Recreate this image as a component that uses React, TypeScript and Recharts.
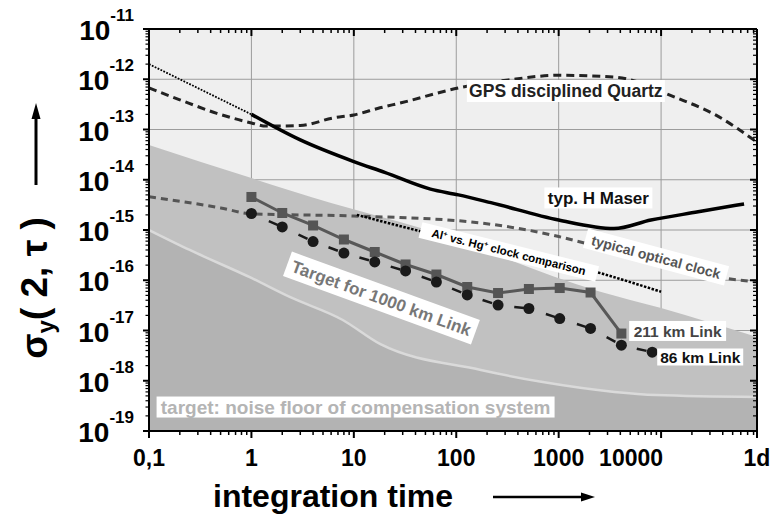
import React from 'react';
import { ComposedChart, XAxis, YAxis, CartesianGrid, Line, Area, ReferenceDot, Label } from 'recharts';

const FONT = '"Liberation Sans", Arial, Helvetica, sans-serif';

const TAU_MIN = 0.1;
const TAU_MAX = 86400;
const SIG_MIN = 1e-19;
const SIG_MAX = 1e-11;

// axis decades + labels
const xMajorTicks = [0.1, 1, 10, 100, 1000, 10000, 86400];
const xMajorLabels = ['0,1', '1', '10', '100', '1000', '10000', '1d'];
const yExponents = [-19, -18, -17, -16, -15, -14, -13, -12, -11];

// GPS disciplined quartz
const quartzTau = [0.1, 0.2, 0.46, 1, 1.4, 3, 6.3, 10, 18, 29, 105, 324, 1000, 3550, 6000, 12000, 34000, 86400];
const quartzSigma = [6.7e-13, 3.9e-13, 2.1e-13, 1.35e-13, 1.17e-13, 1.2e-13, 1.7e-13, 1.95e-13, 2.7e-13, 3.4e-13, 6.7e-13, 9.7e-13, 1.2e-12, 1.1e-12, 8.8e-13, 4.9e-13, 1.95e-13, 5.6e-14];

// H maser (dotted start, solid rest)
const maserDotTau = [0.1, 1];
const maserDotSigma = [2e-12, 2e-13];
const maserTau = [1, 3, 10, 20, 56, 105, 218, 1000, 3470, 7950, 23000, 64600];
const maserSigma = [2e-13, 6.2e-14, 2.3e-14, 1.4e-14, 6.5e-15, 5e-15, 3.5e-15, 1.58e-15, 1.07e-15, 1.58e-15, 2.3e-15, 3.3e-15];

// typical optical clock
const opticalTau = [0.1, 0.5, 1, 10, 138, 1000, 1780, 10000, 41700, 86400];
const opticalSigma = [4.6e-15, 2.75e-15, 2.1e-15, 1.9e-15, 1.45e-15, 7.4e-16, 5.5e-16, 2.3e-16, 1.1e-16, 9.3e-17];

// Al+ vs Hg+ comparison
const alHgTau = [10.7, 48, 2570, 10000];
const alHgSigma = [2e-15, 9.1e-16, 1.38e-16, 5.9e-17];

// fibre links
const link211Tau = [1, 2, 4, 8, 16, 32, 64, 128, 256, 512, 1024, 2048, 4096];
const link211Sigma = [4.54e-15, 2.18e-15, 1.23e-15, 6.47e-16, 3.65e-16, 2.06e-16, 1.3e-16, 7.34e-17, 5.57e-17, 6.7e-17, 7.0e-17, 5.7e-17, 8.7e-18];
const link86Tau = [1, 2, 4, 8, 16, 32, 64, 128, 256, 512, 1024, 2048, 4096, 8192];
const link86Sigma = [2.13e-15, 1.15e-15, 5.9e-16, 3.48e-16, 2.31e-16, 1.53e-16, 9.2e-17, 5.1e-17, 3.2e-17, 2.74e-17, 1.73e-17, 1.1e-17, 5.1e-18, 3.7e-18];

// shaded targets
const targetTau = [0.1, 1, 6, 45, 2500, 10000, 86400];
const targetSigma = [4.92e-14, 1.08e-14, 3.45e-15, 1.1e-15, 6e-17, 2.8e-17, 7.4e-18];
const floorTau = [0.1, 0.25, 1, 2.4, 7.8, 18, 174, 700, 3500, 9000, 86400];
const floorSigma = [1e-15, 4e-16, 1.11e-16, 4.6e-17, 1.62e-17, 5.4e-18, 1.64e-18, 9.4e-19, 6e-19, 5.2e-19, 4.75e-19];

// annotations
const noteText = ['GPS disciplined Quartz', 'typ. H Maser', 'typical optical clock', 'Target for 1000 km Link', 'target: noise floor of compensation system', '211 km Link', '86 km Link'];
const noteTau = [1175, 2443, 8930, 18.6, 10.4, 14500, 24100];
const noteSigma = [5.84e-13, 4.34e-15, 2.9e-16, 4.43e-17, 3.0e-19, 9.8e-18, 2.97e-18];
const noteStyle = [
  { w: 198, h: 22, fs: 17.5, color: '#222', angle: 0 },
  { w: 108, h: 21, fs: 17, color: '#111', angle: 0 },
  { w: 146, h: 20, fs: 14, color: '#555', angle: 15 },
  { w: 200, h: 26, fs: 17, color: '#777', angle: 20 },
  { w: 398, h: 21, fs: 19, color: '#b4b4b4', angle: 0 },
  { w: 97, h: 20, fs: 15.5, color: '#444', angle: 0 },
  { w: 86, h: 17, fs: 15.5, color: '#111', angle: 0 },
];
const alHgNoteTau = 326;
const alHgNoteSigma = 3.65e-16;

const pts = (t: number[], s: number[]) => t.map((tau, i) => ({ tau, sigma: s[i] }));

const xMinor: number[] = [];
for (let e = -1; e <= 4; e++) for (let m = 2; m <= 9; m++) {
  const v = Number(`${m}e${e}`);
  if (v < TAU_MAX) xMinor.push(v);
}
const yMinor: number[] = [];
for (let e = -19; e <= -12; e++) for (let m = 2; m <= 9; m++) yMinor.push(Number(`${m}e${e}`));
const yMajor = yExponents.map((e) => Number(`1e${e}`));
const xTicks = [...xMajorTicks, ...xMinor].sort((a, b) => a - b);
const yTicks = [...yMajor, ...yMinor].sort((a, b) => a - b);

const isDecade = (v: number) => {
  const lg = Math.log10(v);
  return Math.abs(lg - Math.round(lg)) < 1e-6;
};
const xMajorIndex = (v: number) => xMajorTicks.findIndex((t) => Math.abs(t - v) / t < 1e-6);

function LeftTick({ x, y, payload }: any) {
  const v = payload.value;
  const major = isDecade(v);
  return (
    <g>
      <line x1={x - (major ? 6 : 3.5)} x2={x} y1={y} y2={y} stroke="#000" strokeWidth={major ? 2 : 1.2} />
      {major && (
        <text x={x - 15} y={y + 11} textAnchor="end" fontFamily={FONT} fontWeight="bold" fill="#000">
          <tspan fontSize={28}>10</tspan>
          <tspan fontSize={17} dy={-19}>{Math.round(Math.log10(v))}</tspan>
        </text>
      )}
    </g>
  );
}

function RightTick({ x, y, payload }: any) {
  const major = isDecade(payload.value);
  return <line x1={x - (major ? 7 : 4)} x2={x} y1={y} y2={y} stroke="#000" strokeWidth={major ? 2 : 1.2} />;
}

function BottomTick({ x, y, payload }: any) {
  const idx = xMajorIndex(payload.value);
  const major = idx >= 0;
  const shift = xMajorLabels[idx] === '10000' ? -30 : 0;
  return (
    <g>
      <line x1={x} x2={x} y1={y} y2={y + (major ? 7 : 4)} stroke="#000" strokeWidth={major ? 2 : 1.5} />
      {major && (
        <text x={x + shift} y={y + 35} textAnchor="middle" fontFamily={FONT} fontWeight="bold" fontSize={23} fill="#000">
          {xMajorLabels[idx]}
        </text>
      )}
    </g>
  );
}

function TopTick({ x, y, payload }: any) {
  const major = xMajorIndex(payload.value) >= 0;
  return <line x1={x} x2={x} y1={y} y2={y + (major ? 7 : 4)} stroke="#000" strokeWidth={major ? 2 : 1.5} />;
}

function YTitle({ viewBox }: any) {
  const x = viewBox.x + viewBox.width;
  const y = viewBox.y;
  const ax = x - 113;
  return (
    <g>
      <text transform={`translate(${x - 102},${y + 259}) rotate(-90)`} textAnchor="middle" fontFamily={FONT} fontWeight="bold" fontSize={37} fill="#000">
        σ<tspan fontSize={24} dy={7}>y</tspan>
        <tspan dy={-7}>( 2, τ )</tspan>
      </text>
      <line x1={ax} x2={ax} y1={y + 156} y2={y + 86} stroke="#000" strokeWidth={3} />
      <path d={`M${ax} ${y + 74} L${ax - 4.5} ${y + 90} L${ax + 4.5} ${y + 90} Z`} fill="#000" />
    </g>
  );
}

function XTitle({ viewBox }: any) {
  const { x, y } = viewBox;
  return (
    <g>
      <text x={x + 64} y={y + 76} fontFamily={FONT} fontWeight="bold" fontSize={32} fill="#000">integration time</text>
      <line x1={x + 344} x2={x + 436} y1={y + 66} y2={y + 66} stroke="#000" strokeWidth={2.5} />
      <path d={`M${x + 446} ${y + 66} L${x + 432} ${y + 61.5} L${x + 432} ${y + 70.5} Z`} fill="#000" />
    </g>
  );
}

function Tag({ cx, cy, style, children }: any) {
  const { w, h, fs, color, angle } = style;
  return (
    <g transform={`translate(${cx},${cy}) rotate(${angle})`}>
      <rect x={-w / 2} y={-h / 2} width={w} height={h} fill="#fff" />
      <text x={0} y={fs * 0.36} textAnchor="middle" fontSize={fs} fontWeight="bold" fill={color} fontFamily={FONT}>
        {children}
      </text>
    </g>
  );
}

const squareDot = (p: any) => (
  <rect key={`sq${p.index}`} x={p.cx - 5} y={p.cy - 5} width={10} height={10} fill="#555" />
);
const roundDot = (p: any) => <circle key={`ci${p.index}`} cx={p.cx} cy={p.cy} r={5.5} fill="#1a1a1a" />;

export default function App() {
  return (
    <div style={{ position: 'absolute', left: 0, top: 0, background: '#fff' }}>
      <ComposedChart width={770} height={519} margin={{ top: 28, right: 12, bottom: 87, left: 148 }}>
        <CartesianGrid
          fill="#efefef"
          stroke="#9c9c9c"
          strokeWidth={1}
          horizontalValues={yMajor}
          verticalValues={xMajorTicks}
        />
        <XAxis
          dataKey="tau"
          type="number"
          scale="log"
          domain={[TAU_MIN, TAU_MAX]}
          allowDataOverflow
          ticks={xTicks}
          interval={0}
          tick={BottomTick}
          tickLine={false}
          tickSize={0}
          tickMargin={0}
          height={1}
          axisLine={{ stroke: '#000', strokeWidth: 2 }}
          label={<Label content={XTitle} />}
        />
        <XAxis
          xAxisId="top"
          orientation="top"
          dataKey="tau"
          type="number"
          scale="log"
          domain={[TAU_MIN, TAU_MAX]}
          allowDataOverflow
          ticks={xTicks}
          interval={0}
          tick={TopTick}
          tickLine={false}
          tickSize={0}
          tickMargin={0}
          height={1}
          axisLine={{ stroke: '#000', strokeWidth: 2 }}
        />
        <YAxis
          type="number"
          scale="log"
          domain={[SIG_MIN, SIG_MAX]}
          allowDataOverflow
          ticks={yTicks}
          interval={0}
          tick={LeftTick}
          tickLine={false}
          tickSize={0}
          tickMargin={0}
          width={1}
          axisLine={{ stroke: '#000', strokeWidth: 2 }}
          label={<Label content={YTitle} />}
        />
        <YAxis
          yAxisId="right"
          orientation="right"
          type="number"
          scale="log"
          domain={[SIG_MIN, SIG_MAX]}
          allowDataOverflow
          ticks={yTicks}
          interval={0}
          tick={RightTick}
          tickLine={false}
          tickSize={0}
          tickMargin={0}
          width={1}
          axisLine={{ stroke: '#000', strokeWidth: 2 }}
        />

        <Area data={pts(targetTau, targetSigma)} dataKey="sigma" type="monotone" baseValue={SIG_MIN} fill="#c1c1c1" fillOpacity={1} stroke="none" isAnimationActive={false} />
        <Area data={pts(floorTau, floorSigma)} dataKey="sigma" type="monotone" baseValue={SIG_MIN} fill="#b3b3b3" fillOpacity={1} stroke="#dadada" strokeWidth={2.5} isAnimationActive={false} />

        <Line data={pts(quartzTau, quartzSigma)} dataKey="sigma" type="monotone" stroke="#222" strokeWidth={3} strokeDasharray="8 5" dot={false} isAnimationActive={false} />
        <Line data={pts(maserDotTau, maserDotSigma)} dataKey="sigma" type="linear" stroke="#000" strokeWidth={1.8} strokeDasharray="1.8 1.4" dot={false} isAnimationActive={false} />
        <Line data={pts(maserTau, maserSigma)} dataKey="sigma" type="monotone" stroke="#000" strokeWidth={3.5} dot={false} isAnimationActive={false} />
        <Line data={pts(opticalTau, opticalSigma)} dataKey="sigma" type="monotone" stroke="#555" strokeWidth={3} strokeDasharray="7 5" dot={false} isAnimationActive={false} />
        <Line data={pts(alHgTau, alHgSigma)} dataKey="sigma" type="monotone" stroke="#000" strokeWidth={2.5} strokeDasharray="2.5 1.5" dot={false} isAnimationActive={false} />
        <Line data={pts(link211Tau, link211Sigma)} dataKey="sigma" type="linear" stroke="#585858" strokeWidth={3} dot={squareDot} isAnimationActive={false} />
        <Line data={pts(link86Tau, link86Sigma)} dataKey="sigma" type="linear" stroke="#1a1a1a" strokeWidth={2.5} strokeDasharray="0 19 10 3.6" dot={roundDot} isAnimationActive={false} />

        {noteText.map((t, i) => (
          <ReferenceDot
            key={t}
            x={noteTau[i]}
            y={noteSigma[i]}
            ifOverflow="visible"
            shape={(p: any) => <Tag cx={p.cx} cy={p.cy} style={noteStyle[i]}>{t}</Tag>}
          />
        ))}
        <ReferenceDot
          x={alHgNoteTau}
          y={alHgNoteSigma}
          ifOverflow="visible"
          shape={(p: any) => (
            <Tag cx={p.cx} cy={p.cy} style={{ w: 182, h: 16, fs: 11.5, color: '#000', angle: 14 }}>
              Al<tspan fontSize={7} dy={-4}>+</tspan>
              <tspan dy={4}> vs. Hg</tspan>
              <tspan fontSize={7} dy={-4}>+</tspan>
              <tspan dy={4}> clock comparison</tspan>
            </Tag>
          )}
        />
      </ComposedChart>
    </div>
  );
}
